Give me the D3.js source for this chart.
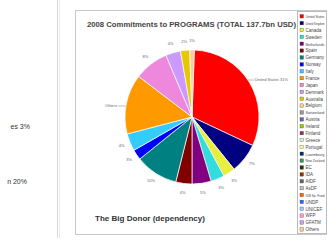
<!DOCTYPE html>
<html>
<head>
<meta charset="utf-8">
<script src="https://cdn.jsdelivr.net/npm/d3@7"></script>
<style>
  body { margin: 0; background: #fff; }
  text { font-family: "Liberation Sans", Arial, sans-serif; }
</style>
</head>
<body>
<div id="chart"></div>
<script>
// slices, clockwise from the top
var donors = ["United States", "United Kingdom", "Canada", "Sweden", "Netherlands", "Spain",
  "Germany", "Norway", "Italy", "Others", "France", "Japan", "Denmark", "Australia"];
var shares = [31.4, 7.2, 2.9, 3.3, 4.6, 3.9, 10.3, 2.5, 4.2, 14.4, 8.3, 3.6, 2.2, 1.1];

var legendNames = ["United States", "United Kingdom", "Canada", "Sweden", "Netherlands",
  "Spain", "Germany", "Norway", "Italy", "France", "Japan", "Denmark", "Australia",
  "Belgium", "Switzerland", "Austria", "Ireland", "Finland", "Greece", "Portugal",
  "Luxembourg", "New Zealand", "EC", "IDA", "AfDF", "AsDF", "IDB Sp. Fund", "UNDP",
  "UNICEF", "WFP", "GFATM", "Others"];

var title = "2008 Commitments to PROGRAMS (TOTAL 137.7bn USD)";
var caption = "The Big Donor (dependency)";
var sideNotes = ["es 3%", "n 20%"];

var palette = ["#ff0000", "#000080", "#e8ee3c", "#33dddd", "#800080", "#800000",
  "#008080", "#0000ff", "#33ccff", "#ff9900", "#ee88dd", "#cc99ff", "#e6c800", "#ffcc99",
  "#999999", "#666699", "#99cc00", "#993366", "#ccffcc", "#ffff99", "#003366",
  "#339966", "#333300", "#993300", "#666666", "#c0c0c0", "#ff6600", "#3366ff",
  "#99ccff", "#ff99cc", "#cc99ff", "#ffcc99"];

var svgWidth = 328;
var svgHeight = 246;

var svg = d3.select("#chart")
  .append("svg")
  .attr("width", svgWidth)
  .attr("height", svgHeight);

// left side panel
svg.append("line")
  .attr("x1", 57.5).attr("x2", 57.5).attr("y1", 0).attr("y2", 238)
  .attr("stroke", "#d8d8d8");
svg.append("line")
  .attr("x1", 59.5).attr("x2", 59.5).attr("y1", 0).attr("y2", 238)
  .attr("stroke", "#ececec");

svg.selectAll(".note")
  .data(sideNotes)
  .enter()
  .append("text")
  .attr("class", "note")
  .attr("x", (d, i) => i == 0 ? 30 : 27)
  .attr("y", (d, i) => i == 0 ? 129 : 184)
  .attr("text-anchor", "end")
  .style("font-size", "7px")
  .style("fill", "#333")
  .text(d => d);

// chart frame
svg.append("rect")
  .attr("x", 75.5).attr("y", 10.5)
  .attr("width", 251).attr("height", 224)
  .attr("fill", "#fff")
  .attr("stroke", "#c8c8c8");

svg.append("text")
  .attr("x", 87).attr("y", 27)
  .attr("textLength", 209)
  .attr("lengthAdjust", "spacingAndGlyphs")
  .style("font-size", "6.5px")
  .style("font-weight", "bold")
  .style("fill", "#444")
  .text(title);

svg.append("text")
  .attr("x", 95).attr("y", 221)
  .attr("textLength", 110)
  .attr("lengthAdjust", "spacingAndGlyphs")
  .style("font-size", "6.5px")
  .style("font-weight", "bold")
  .style("fill", "#333")
  .text(caption);

// pie
var cx = 192, cy = 117, radius = 67;
var pieGroup = svg.append("g")
  .attr("transform", `translate(${cx}, ${cy})`);

var pie = d3.pie()
  .sort(null)
  .value(d => d)
  .startAngle(2 * Math.PI / 180)
  .endAngle(2 * Math.PI + 2 * Math.PI / 180);

var arcs = pie(shares);
var arc = d3.arc().innerRadius(0).outerRadius(radius);
var labelArc = d3.arc().innerRadius(radius + 9).outerRadius(radius + 9);

pieGroup.selectAll("path")
  .data(arcs)
  .enter()
  .append("path")
  .attr("d", arc)
  .attr("fill", (d, i) => palette[i])
  .attr("stroke", "#fff")
  .attr("stroke-width", 0.7);

// percent labels for the smaller slices
pieGroup.selectAll(".pct")
  .data(arcs.filter((d, i) => i != 0 && i != 9))
  .enter()
  .append("text")
  .attr("class", "pct")
  .attr("transform", d => `translate(${labelArc.centroid(d)})`)
  .attr("text-anchor", "middle")
  .attr("dy", "0.35em")
  .style("font-size", "4px")
  .style("fill", "#666")
  .text(d => Math.round(d.data) + "%");

// leader labels for the two big ones
[0, 9].forEach(function(i) {
  var a = arcs[i];
  var y = i == 0 ? -37 : -11;
  var xEdge = Math.sqrt(radius * radius - y * y) * (i == 0 ? 1 : -1);
  var xEnd = i == 0 ? xEdge + 6 : xEdge - 8;
  pieGroup.append("line")
    .attr("x1", xEdge).attr("y1", y)
    .attr("x2", xEnd).attr("y2", y)
    .attr("stroke", "#777").attr("stroke-width", 0.5);
  pieGroup.append("text")
    .attr("x", i == 0 ? xEnd + 1 : xEnd - 1)
    .attr("y", y)
    .attr("dy", "0.35em")
    .attr("text-anchor", i == 0 ? "start" : "end")
    .style("font-size", "4px")
    .style("fill", "#666")
    .text(i == 0 ? donors[i] + " " + Math.round(a.data) + "%" : donors[i]);
});

// legend (box runs to the window edge)
svg.append("rect")
  .attr("x", 297.5).attr("y", 11.5)
  .attr("width", 29).attr("height", 222)
  .attr("fill", "#fff")
  .attr("stroke", "#bbb");

var legendY = d3.scaleBand()
  .domain(legendNames)
  .range([13, 233]);

var legend = svg.selectAll(".leg")
  .data(legendNames)
  .enter()
  .append("g")
  .attr("class", "leg")
  .attr("transform", d => `translate(300, ${legendY(d)})`);

legend.append("rect")
  .attr("width", 3.5).attr("height", 3.5)
  .attr("y", 1.5)
  .attr("fill", (d, i) => palette[i])
  .attr("stroke", "#333").attr("stroke-width", 0.3);

legend.append("text")
  .attr("x", 5.5).attr("y", 5)
  .style("font-size", "4.5px")
  .style("fill", "#444")
  .text(d => d)
  .each(function() {
    // shrink long names so they stay inside the box
    var w = this.getComputedTextLength();
    if (w > 19) {
      d3.select(this).style("font-size", (4.5 * 19 / w).toFixed(2) + "px");
    }
  });
</script>
</body>
</html>
